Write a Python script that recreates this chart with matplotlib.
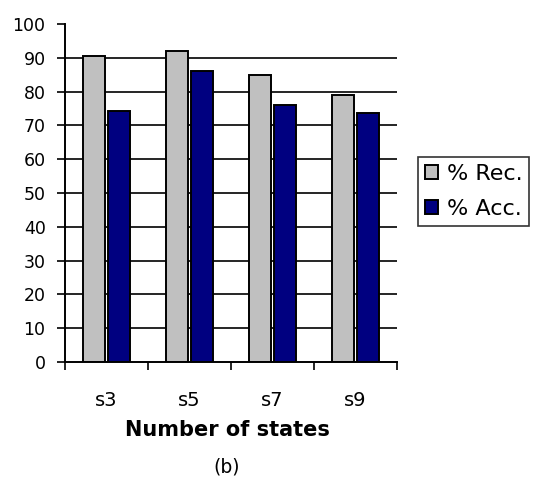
import matplotlib
matplotlib.use("Agg")
import matplotlib.pyplot as plt
import numpy as np

categories = ["s3", "s5", "s7", "s9"]
rec_values = [90.6, 92.1, 85.0, 79.1]
acc_values = [74.2, 86.1, 75.9, 73.6]
series_names = ["% Rec.", "% Acc."]
y_ticks = list(range(0, 101, 10))

plt.rcParams["font.family"] = ["DejaVu Sans"]

fig = plt.figure(figsize=(5.36, 4.79), dpi=100)
ax = fig.add_axes([0.1213, 0.2443, 0.6194, 0.7056])

x = np.arange(len(categories))
w = 0.265
off = 0.1476

# horizontal gridlines (none at the top value)
for t in y_ticks[1:-1]:
    ax.axhline(t, color="black", lw=1.2, zorder=1)

ax.bar(x - off, rec_values, width=w, color="#C0C0C0", edgecolor="black",
       linewidth=1.4, label=series_names[0], zorder=2)
ax.bar(x + off, acc_values, width=w, color="#000080", edgecolor="black",
       linewidth=1.4, label=series_names[1], zorder=2)

ax.set_xlim(-0.5, len(categories) - 0.5)
ax.set_ylim(0, 100)
ax.set_yticks(y_ticks)
ax.tick_params(axis="y", direction="out", length=6, width=1.2, labelsize=12.5,
               pad=8, colors="black")

ax.set_xticks(x)
ax.set_xticklabels(categories)
ax.tick_params(axis="x", which="major", length=0, labelsize=14, pad=21)
ax.set_xticks(np.arange(-0.5, len(categories), 1.0), minor=True)
ax.tick_params(axis="x", which="minor", direction="out", length=6, width=1.2)

for s in ("top", "right"):
    ax.spines[s].set_visible(False)
for s in ("left", "bottom"):
    ax.spines[s].set_linewidth(1.4)
    ax.spines[s].set_color("black")

fig.text(227 / 536, 1 - 430 / 479, "Number of states", ha="center", va="center",
         fontsize=15, fontweight="bold")
fig.text(227 / 536, 1 - 467 / 479, "(b)", ha="center", va="center", fontsize=13.5)

leg = fig.legend(loc="upper left", bbox_to_anchor=(418 / 536, 1 - 157 / 479),
                 frameon=True, fancybox=False, fontsize=16, handlelength=0.6,
                 handleheight=0.6, handletextpad=0.4, borderpad=0.3,
                 labelspacing=0.7, borderaxespad=0)
leg.get_frame().set_edgecolor("black")
leg.get_frame().set_linewidth(1.2)

fig.savefig("out.png", dpi=100)
